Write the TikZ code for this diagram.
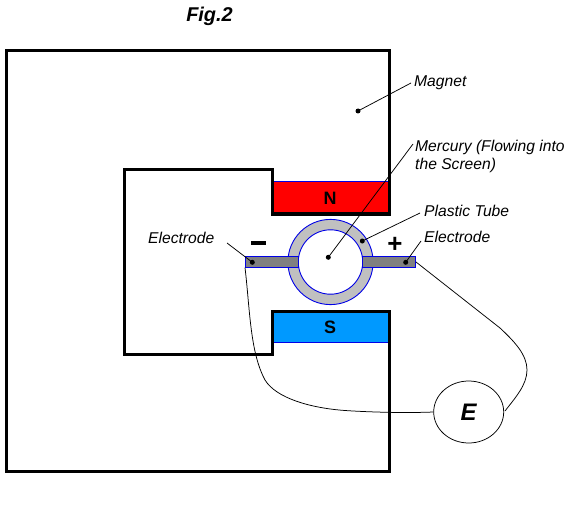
\documentclass[tikz,border=0pt]{standalone}
\usepackage{fontspec}
\usetikzlibrary{shapes.geometric}
\setmainfont{Liberation Sans}
\definecolor{sblue}{RGB}{0,153,255}
\definecolor{oblue}{RGB}{0,0,230}
\definecolor{tubegray}{RGB}{192,192,192}
\definecolor{elgray}{RGB}{128,128,128}
\tikzset{
  lbl/.style={inner sep=0pt,anchor=west,align=left,font=\fontsize{15.7}{18}\selectfont\itshape},
  pole/.style={inner sep=0pt,font=\fontsize{18}{20}\selectfont\bfseries},
  thinline/.style={black,line width=0.75bp},
  iron/.style={black,line width=3bp,line join=miter},
  bluebox/.style={oblue,line width=0.9bp},
  pin/.style={circle,fill=black,inner sep=0pt,minimum size=5bp}
}
\begin{document}
\begin{tikzpicture}[x=1bp,y=-1bp]
\useasboundingbox (0,0) rectangle (569,505);
% pole pieces
\fill[red] (272,181) rectangle (389,214);
\draw[bluebox] (272,181) -- (389,181);
\fill[sblue] (272,311) rectangle (389,342);
\draw[bluebox] (272,342.5) -- (389,342.5);
\node[pole] (N) at (330,198) {N};
\node[pole] (S) at (330,327) {S};
% magnet
\draw[iron] (6,51) -- (389,51) -- (389,214) -- (272,214) -- (272,170) -- (124,170) -- (124,354) -- (272,354) -- (272,311) -- (389,311) -- (389,471) -- (6,471) -- cycle;
% electrodes and tube
\draw[bluebox,fill=tubegray,even odd rule] (330.5,262) circle[radius=42.6] (330.5,262) circle[radius=32.2];
\draw[bluebox,fill=elgray] (245,256) rectangle (298.5,267.5);
\draw[bluebox,fill=elgray] (362.5,256) rectangle (415.5,267.5);
% pins
\node[pin] (pmag) at (358,111) {};
\node[pin] (pmer) at (328.3,257.3) {};
\node[pin] (ptube) at (362.3,241) {};
\node[pin] (pelr) at (405.7,262.3) {};
\node[pin] (pell) at (252.3,262.3) {};
% labels
\node[pole,font=\fontsize{20}{22}\selectfont\bfseries\itshape] (fig) at (209.5,16.5) {Fig.2};
\node[lbl] (lmag) at (414,83) {Magnet};
\node[lbl] (lmer) at (415,156.5) {Mercury (Flowing into\\the Screen)};
\node[lbl] (ltube) at (424,210.5) {Plastic Tube};
\node[lbl] (lelr) at (424,237) {Electrode};
\node[lbl] (lell) at (148,238) {Electrode};
\node[pole,font=\fontsize{22}{24}\selectfont\bfseries] (minus) at (258.5,243) {\rule{15bp}{3.2bp}};
\node[pole,font=\fontsize{26}{28}\selectfont\bfseries] (plus) at (395,245) {+};
% leaders
\coordinate (amer) at (413,144);
\coordinate (atube) at (420,213);
\coordinate (aelr) at (421,241);
\coordinate (amag) at (411,83);
\coordinate (aell) at (227,243);
\draw[thinline] (pmag.center) -- (amag);
\draw[thinline] (pmer.center) -- (amer);
\draw[thinline] (ptube.center) -- (atube);
\draw[thinline] (pelr.center) -- (aelr);
\draw[thinline] (pell.center) -- (aell);
% source
\node[draw=black,line width=0.75bp,ellipse,minimum width=70bp,minimum height=62bp,inner sep=0pt,font=\fontsize{24}{26}\selectfont\bfseries\itshape] (E) at (468.7,412) {E};
\coordinate (wl) at (245,267.5);
\coordinate (wr) at (416,262);
\coordinate (ew) at (505,411);
\draw[thinline] (wl) .. controls (250,310) and (250,352) .. (265,380) .. controls (276,398) and (310,408) .. (345,410.5) .. controls (375,412.5) and (410,413) .. (E.west);
\draw[thinline] (wr) -- (500,328) .. controls (515,342) and (527,355) .. (527,370) .. controls (527,385) and (515,398) .. (ew);
\end{tikzpicture}
\end{document}
